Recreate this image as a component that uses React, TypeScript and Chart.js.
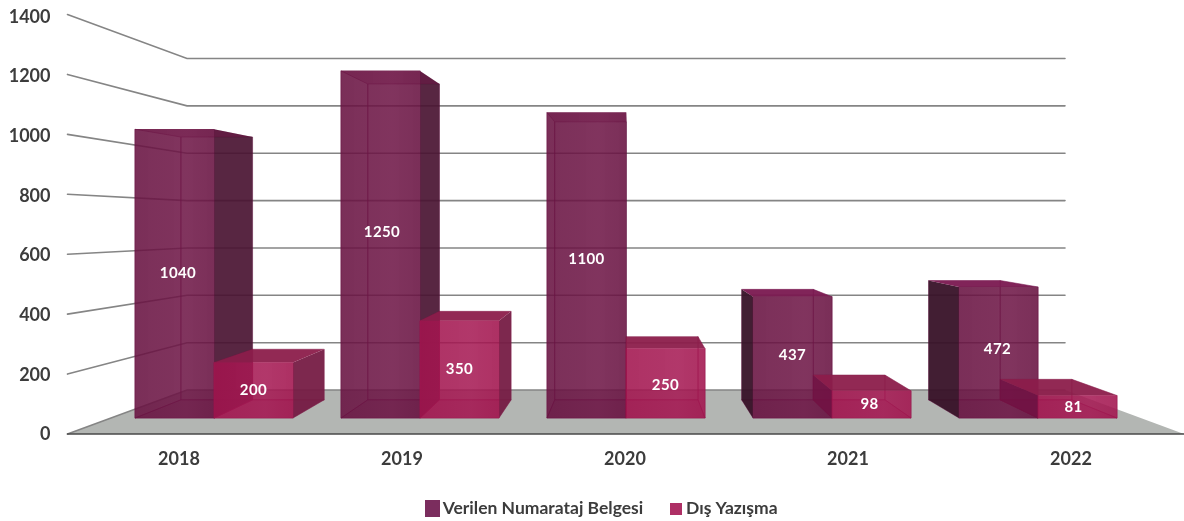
import React, { useEffect, useRef } from "react";
import { Chart, registerables } from "chart.js";

Chart.register(...registerables);

const years = ["2018", "2019", "2020", "2021", "2022"];
const belgeValues = [1040, 1250, 1100, 437, 472];
const yaziValues = [200, 350, 250, 98, 81];
const tickValues = [0, 200, 400, 600, 800, 1000, 1200, 1400];
const belgeNudgeX = [3.5, 1.5, 0, 0, -1];
const belgeNudgeY = [0, -12, -6, -2, -3];
const yaziNudgeX = [0, 0, 0, -2, -4];
const yaziNudgeY = [0, 0, 2, 0, 0];

// perspective of the fake 3D box
const VANISH_X = 630;
const DEPTH_X = 0.0927;
const DEPTH_Y_A = 0.91;
const DEPTH_Y_B = 19.4;
const WALL_LEFT = 187;
const WALL_RIGHT = 1065;
const BAR_WIDTH = 79;
const BAR_SHIFT = 0.1917;

const FONT = "Lato, 'Open Sans', sans-serif";
const TEXT = "#3c3c3c";

const backX = (x: number) => x + (VANISH_X - x) * DEPTH_X;
const backY = (y: number) => y * DEPTH_Y_A + DEPTH_Y_B;

const skins = [
  {
    front: ["rgba(104,18,65,0.88)", "rgba(110,22,70,0.87)", "rgba(104,18,65,0.88)"],
    top: "rgba(122,24,80,0.95)",
    topCovered: "rgba(122,10,70,0.3)",
    right: "rgba(74,20,50,0.92)",
    left: "rgba(56,18,40,0.95)",
    floor: "rgba(70,10,45,0.2)",
    edge: "rgba(105,8,65,0.5)",
    swatch: "#7b2d5e",
  },
  {
    front: ["rgba(162,20,78,0.88)", "rgba(166,26,84,0.87)", "rgba(162,20,78,0.88)"],
    top: "rgba(140,30,75,0.95)",
    topCovered: "rgba(140,20,70,0.3)",
    right: "rgba(118,28,68,0.95)",
    left: "rgba(112,16,66,0.8)",
    floor: "rgba(120,10,60,0.25)",
    edge: "rgba(125,15,65,0.5)",
    swatch: "#ae2f65",
  },
];

function face(ctx: CanvasRenderingContext2D, pts: number[][], fill?: string, stroke?: string) {
  ctx.beginPath();
  pts.forEach((p, i) => (i ? ctx.lineTo(p[0], p[1]) : ctx.moveTo(p[0], p[1])));
  ctx.closePath();
  if (fill) {
    ctx.fillStyle = fill;
    ctx.fill();
  }
  if (stroke) {
    ctx.strokeStyle = stroke;
    ctx.lineWidth = 1;
    ctx.stroke();
  }
}

const wallPlugin = {
  id: "wall",
  afterLayout(chart: any) {
    const lg = chart.legend;
    if (!lg) return;
    lg.top = 468;
    lg.left += 13.5;
    lg.right += 13.5;
  },
  beforeDatasetsDraw(chart: any) {
    const { ctx, chartArea, scales } = chart;
    const floorBack = scales.yWall.getPixelForValue(0);
    const floorFront = scales.yEdge.getPixelForValue(0);
    ctx.save();
    face(ctx, [
      [chartArea.left, floorFront],
      [WALL_LEFT, floorBack],
      [WALL_RIGHT, floorBack],
      [chartArea.right + 1.5, floorFront],
    ], "#b3b6b3");
    ctx.lineCap = "round";
    tickValues.forEach((v) => {
      const yw = scales.yWall.getPixelForValue(v);
      const ye = scales.yEdge.getPixelForValue(v);
      ctx.beginPath();
      ctx.moveTo(chartArea.left, ye);
      ctx.lineTo(WALL_LEFT, yw);
      ctx.lineTo(WALL_RIGHT, yw);
      ctx.strokeStyle = "#858585";
      ctx.lineWidth = 1.6;
      ctx.stroke();
    });
    ctx.beginPath();
    ctx.moveTo(chartArea.left, floorFront);
    ctx.lineTo(chartArea.right + 1.5, floorFront);
    ctx.strokeStyle = "#4a4a4a";
    ctx.lineWidth = 1.6;
    ctx.stroke();
    ctx.restore();
  },
  beforeDatasetDraw(chart: any, args: any) {
    const { ctx } = chart;
    const skin = skins[args.index];
    ctx.save();
    args.meta.data.forEach((el: any) => {
      const p = el.getProps(["x", "y", "base", "width"], true);
      const L = p.x - p.width / 2;
      const R = p.x + p.width / 2;
      const T = p.y;
      const B = p.base;
      const bL = backX(L);
      const bR = backX(R);
      const bT = backY(T);
      const bB = backY(B);
      face(ctx, [[L, B], [R, B], [bR, bB], [bL, bB]], skin.floor, skin.edge);
      face(ctx, [[bL, bT], [bR, bT], [bR, bB], [bL, bB]], undefined, skin.edge);
      if (bL < L) face(ctx, [[L, T], [bL, bT], [bL, bB], [L, B]], skin.left);
      else face(ctx, [[L, T], [bL, bT], [bL, bB], [L, B]], undefined, skin.edge);
      if (bR > R) face(ctx, [[R, T], [bR, bT], [bR, bB], [R, B]], skin.right);
      else face(ctx, [[R, T], [bR, bT], [bR, bB], [R, B]], undefined, skin.edge);
      face(ctx, [[L, T], [R, T], [bR, bT], [bL, bT]], bT > T ? skin.topCovered : skin.top);
    });
    ctx.restore();
  },
  afterDatasetsDraw(chart: any) {
    const { ctx } = chart;
    ctx.save();
    ctx.fillStyle = "#ffffff";
    ctx.font = `bold 15px ${FONT}`;
    ctx.textAlign = "center";
    ctx.textBaseline = "middle";
    (ctx as any).letterSpacing = "0.4px";
    [belgeValues, yaziValues].forEach((vals, d) => {
      const nx = d === 0 ? belgeNudgeX : yaziNudgeX;
      const ny = d === 0 ? belgeNudgeY : yaziNudgeY;
      chart.getDatasetMeta(d).data.forEach((el: any, i: number) => {
        const p = el.getProps(["x", "y", "base"], true);
        ctx.fillText(String(vals[i]), p.x + nx[i], (p.y + p.base) / 2 + ny[i]);
      });
    });
    ctx.restore();
  },
};

function frontFill(d: number) {
  return (c: any) => {
    const scale = c.chart.scales.xBars;
    if (!scale || !c.raw) return skins[d].front[0];
    const x0 = scale.getPixelForValue(c.raw.x) - BAR_WIDTH / 2;
    const g = c.chart.ctx.createLinearGradient(x0, 0, x0 + BAR_WIDTH, 0);
    g.addColorStop(0, skins[d].front[0]);
    g.addColorStop(0.65, skins[d].front[1]);
    g.addColorStop(1, skins[d].front[2]);
    return g;
  };
}

function swatch(color: string, w: number, h: number) {
  const cv = document.createElement("canvas");
  cv.width = w;
  cv.height = h;
  const c = cv.getContext("2d")!;
  c.fillStyle = color;
  c.fillRect(0, 0, w, h);
  return cv;
}

export default function App() {
  const ref = useRef<HTMLCanvasElement>(null);

  useEffect(() => {
    document.body.style.margin = "0";
    const markers = [swatch(skins[0].swatch, 15, 17), swatch(skins[1].swatch, 12, 12)];
    const chart = new Chart(ref.current!, {
      type: "bar",
      data: {
        labels: years,
        datasets: [
          {
            label: "Verilen Numarataj Belgesi",
            data: belgeValues.map((y, i) => ({ x: i - BAR_SHIFT, y })),
            xAxisID: "xBars",
            yAxisID: "yBars",
            order: 1,
            grouped: false,
            barThickness: BAR_WIDTH,
            backgroundColor: frontFill(0),
            borderWidth: 0,
          },
          {
            label: "Dış Yazışma",
            data: yaziValues.map((y, i) => ({ x: i + BAR_SHIFT, y })),
            xAxisID: "xBars",
            yAxisID: "yBars",
            order: 0,
            grouped: false,
            barThickness: BAR_WIDTH,
            backgroundColor: frontFill(1),
            borderWidth: 0,
          },
        ] as any,
      },
      options: {
        responsive: false,
        animation: false,
        layout: { padding: { left: 0, right: 1.5, top: 14.5, bottom: -12.5 } },
        scales: {
          x: {
            type: "category",
            offset: true,
            grid: { display: false, drawTicks: false },
            border: { display: false },
            ticks: { color: TEXT, font: { family: FONT, size: 18, weight: "bold" }, padding: 14, maxRotation: 0 },
            afterFit(s: any) {
              s.height = 40;
            },
          },
          xBars: {
            type: "linear",
            display: false,
            bounds: "data",
            offset: false,
            min: -0.7112,
            max: 4.7014,
          },
          y: {
            type: "linear",
            bounds: "data",
            min: 1,
            max: 1408.5,
            grid: { display: false, drawTicks: false },
            border: { display: false },
            ticks: {
              color: TEXT,
              font: { family: FONT, size: 18, weight: "bold" },
              padding: 17,
              callback: (v: any) => String(v),
            },
            afterBuildTicks(s: any) {
              s.ticks = tickValues.map((value) => ({ value }));
            },
            afterFit(s: any) {
              s.width = 67.5;
              s.paddingTop = 0;
              s.paddingBottom = 0;
            },
          },
          yBars: { type: "linear", display: false, bounds: "data", min: -57.55, max: 1453.2 },
          yWall: { type: "linear", display: false, bounds: "data", min: -185.6, max: 1585.8 },
          yEdge: { type: "linear", display: false, bounds: "data", min: 0, max: 1400 },
        },
        plugins: {
          tooltip: { enabled: false },
          legend: {
            position: "bottom",
            labels: {
              usePointStyle: true,
              pointStyleWidth: 2,
              padding: 32,
              color: TEXT,
              font: { family: FONT, size: 17.5, weight: "bold" },
              generateLabels: (c: any) =>
                c.data.datasets.map((d: any, i: number) => ({
                  text: d.label,
                  pointStyle: markers[i],
                  fontColor: TEXT,
                  datasetIndex: i,
                  lineWidth: 0,
                })),
            },
          },
        },
      } as any,
      plugins: [wallPlugin as any],
    });
    return () => chart.destroy();
  }, []);

  return (
    <canvas
      ref={ref}
      width={1184}
      height={521}
      style={{ display: "block", width: 1184, height: 521, filter: "blur(0.45px)" }}
    />
  );
}
